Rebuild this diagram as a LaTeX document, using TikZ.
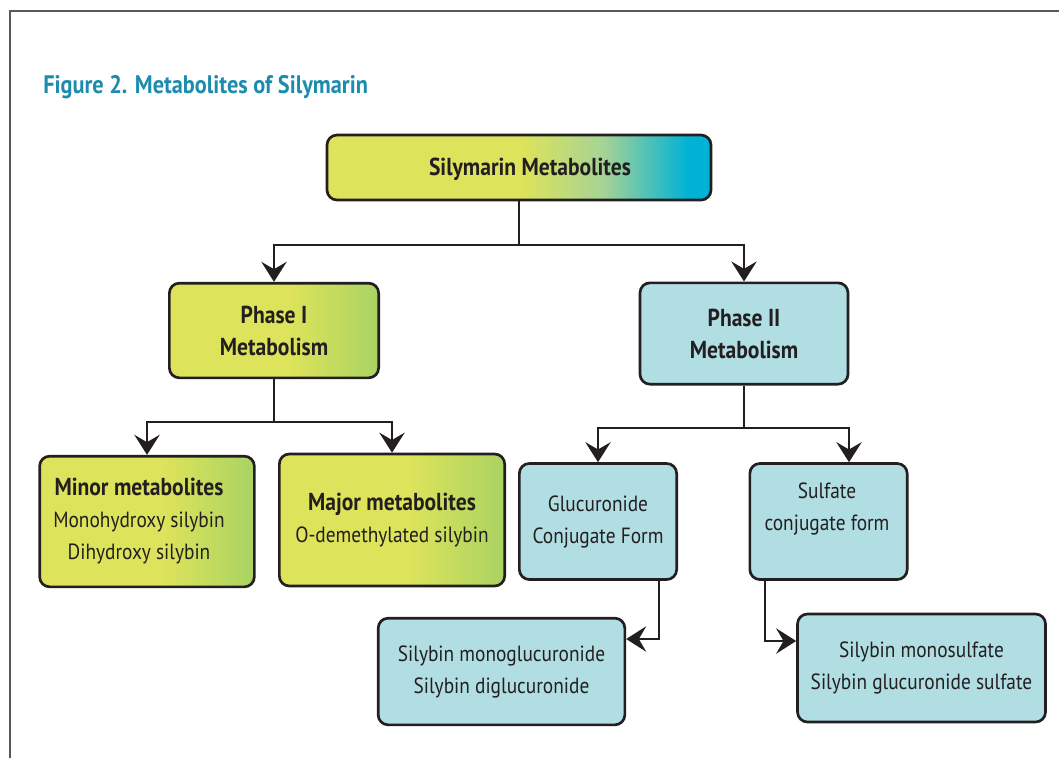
\documentclass[tikz,border=0pt]{standalone}
\usepackage{fontspec}
\setmainfont{PT Sans}[FakeStretch=0.88]
\usetikzlibrary{arrows.meta}
\definecolor{ylw}{HTML}{DDE35A}
\definecolor{grn}{HTML}{A9D363}
\definecolor{cyn}{HTML}{00B2D6}
\definecolor{lgc}{HTML}{A6D395}
\definecolor{lblue}{HTML}{B0DEE3}
\definecolor{ink}{HTML}{231F20}
\definecolor{ttl}{HTML}{1B8CAE}
\definecolor{frame}{HTML}{585858}
\pgfdeclarehorizontalshading{topshade}{100bp}{color(0bp)=(ylw); color(25bp)=(ylw); color(50.5bp)=(ylw); color(61bp)=(lgc); color(72bp)=(cyn); color(100bp)=(cyn)}
\pgfdeclarehorizontalshading{pshade}{100bp}{color(0bp)=(ylw); color(25bp)=(ylw); color(54bp)=(ylw); color(75bp)=(grn); color(100bp)=(grn)}
\newcommand{\bigf}{\fontsize{18.4}{24}\selectfont\bfseries}
\tikzset{
  box/.style={draw=ink, line width=2pt, rounded corners=7.5pt, text=ink, align=center, inner sep=0pt},
  ybox/.style={box, shading=pshade},
  tbox/.style={box, shading=topshade},
  bbox/.style={box, fill=lblue},
  bigtxt/.style={font=\bigf},
  smalltxt/.style={font=\fontsize{16.5}{24}\selectfont},
  conn/.style={draw=ink, line width=1.6pt},
  arr/.style={conn, -{Stealth[length=15pt, width=19pt, inset=5.5pt]}},
}
\begin{document}
\begin{tikzpicture}[x=0.75pt, y=-0.75pt]
\useasboundingbox (0,0) rectangle (1059,758);
\fill[white] (0,0) rectangle (1059,758);
\draw[frame, line width=1.2pt] (10,758) -- (10,11) -- (1059,11);
\node[anchor=base west, inner sep=0pt, text=ttl, font=\fontsize{19}{22}\selectfont\bfseries] (title) at (43,93) {Figure 2. Metabolites of Silymarin};

\node[tbox, minimum width=288pt, minimum height=48.75pt] (top) at (519,167.5) {};
\node[bigtxt, text=ink] (toptxt) at (530,169) {Silymarin Metabolites};

\node[ybox, bigtxt, minimum width=157pt, minimum height=71pt] (p1) at (274,330.5) {Phase I\\Metabolism};
\node[bbox, bigtxt, minimum width=156pt, minimum height=76pt] (p2) at (744,333.5) {Phase II\\Metabolism};

\node[ybox, minimum width=161pt, minimum height=98pt] (minor) at (147,521.5) {};
\node[smalltxt, text=ink, align=center] (minortxt) at (139,521.5) {{\bigf Minor metabolites}\\Monohydroxy silybin\\Dihydroxy silybin};
\node[ybox, smalltxt, minimum width=169pt, minimum height=99pt] (major) at (392,520) {{\bigf Major metabolites}\\O-demethylated silybin};

\node[bbox, smalltxt, minimum width=118pt, minimum height=87pt] (gluc) at (598,521.5) {Glucuronide\\Conjugate Form};
\node[bbox, minimum width=118pt, minimum height=87pt] (sulf) at (828.5,521.5) {};
\node[smalltxt, text=ink, align=center] (sulftxt) at (827,509) {Sulfate\\conjugate form};

\node[bbox, smalltxt, minimum width=185pt, minimum height=80pt] (mono) at (501.5,671.5) {Silybin monoglucuronide\\Silybin diglucuronide};
\node[bbox, smalltxt, minimum width=186pt, minimum height=81pt] (monos) at (921.5,668) {Silybin monosulfate\\Silybin glucuronide sulfate};

\coordinate (t1) at (519,245);
\coordinate (q1) at (274,422);
\coordinate (q2) at (744,428);
\coordinate (s1) at (849,428);
\coordinate (g1) at (659,639);
\coordinate (s2) at (765,641);

\draw[conn] (top.south) -- (t1);
\draw[arr] (t1) -| (p1.north);
\draw[arr] (t1) -| (p2.north);

\draw[conn] (p1.south) -- (q1);
\draw[arr] (q1) -| (minor.north);
\draw[arr] (q1) -| (major.north);

\draw[conn] (p2.south) -- (q2);
\draw[arr] (q2) -| (gluc.north);
\draw[arr] (q2) -- (s1) -- (s1 |- sulf.north);

\draw[arr] (g1 |- gluc.south) -- (g1) -- (g1 -| mono.east);
\draw[arr] (s2 |- sulf.south) -- (s2) -- (s2 -| monos.west);
\end{tikzpicture}
\end{document}
